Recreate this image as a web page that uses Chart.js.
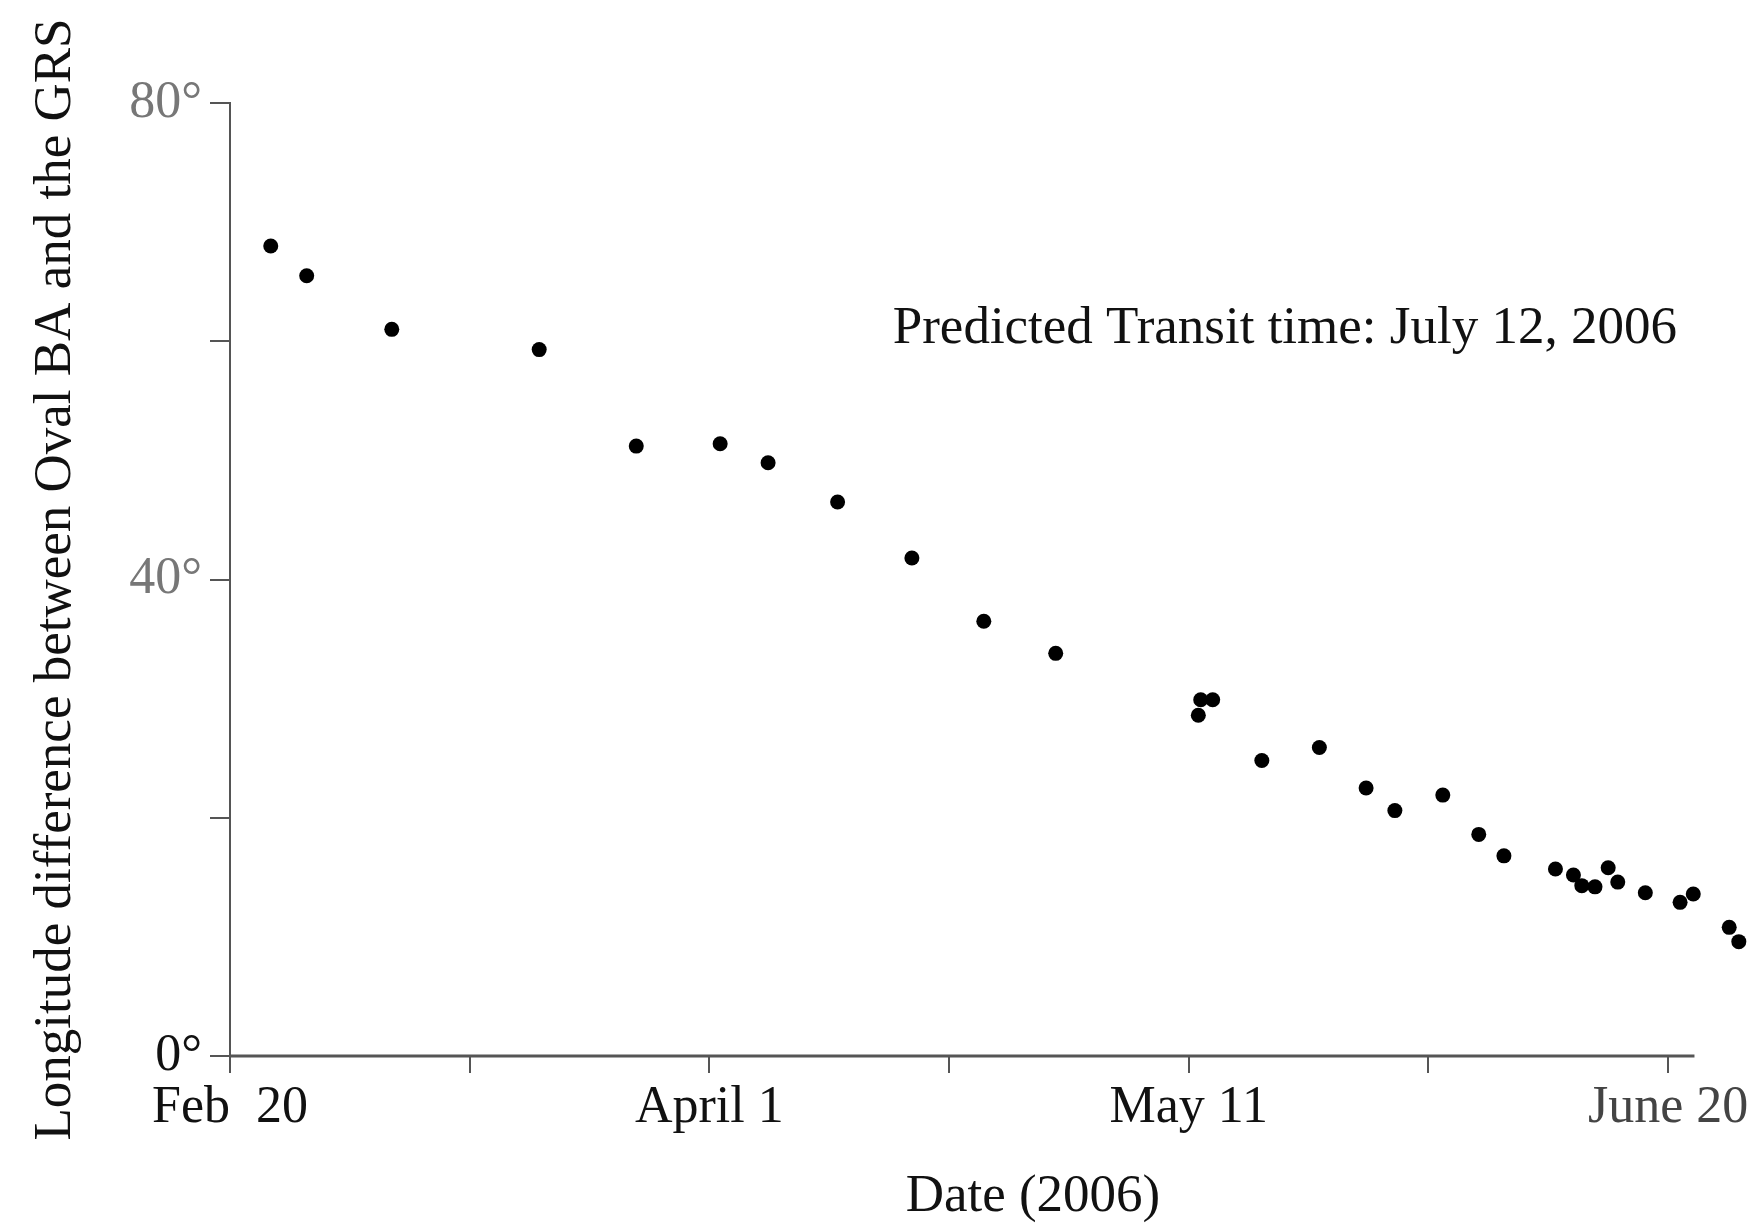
<!DOCTYPE html>
<html>
<head>
<meta charset="utf-8">
<title>Oval BA and GRS longitude difference</title>
<script src="https://cdn.jsdelivr.net/npm/chart.js@4.4.1/dist/chart.umd.min.js"></script>
<style>
  html, body { margin: 0; padding: 0; background: #fff; }
  #wrap { width: 1754px; height: 1227px; }
</style>
</head>
<body>
<div id="wrap"><canvas id="chart"></canvas></div>
<script>
// days counted from Feb 20, 2006
const dayOffsets = [3.4, 6.4, 13.5, 25.8, 33.9, 40.9, 44.9, 50.7, 56.9, 62.9, 68.9,
    80.8, 81.0, 82.0, 86.1, 90.9, 94.8, 97.2, 101.2, 104.2, 106.3, 110.6, 112.1,
    112.8, 113.9, 115.0, 115.8, 118.1, 121.0, 122.1, 125.1, 125.9];
// longitude difference in degrees
const longitudeDiff = [68.0, 65.5, 61.0, 59.3, 51.2, 51.4, 49.8, 46.5, 41.8, 36.5, 33.8,
    28.6, 29.9, 29.9, 24.8, 25.9, 22.5, 20.6, 21.9, 18.6, 16.8, 15.7, 15.2,
    14.3, 14.2, 15.8, 14.6, 13.7, 12.9, 13.6, 10.8, 9.6];

const xTickDays = [0, 20, 40, 60, 80, 100, 120];
const xTickLabels = ['Feb  20', '', 'April 1', '', 'May 11', '', 'June 20'];
const yTickValues = [0, 20, 40, 60, 80];
const yTickLabels = ['0°', '', '40°', '', '80°'];

const xAxisEnd = 122.2;   // the drawn axis line stops here, points go a bit further
const noteText = 'Predicted Transit time: July 12, 2006';
const noteAt = {x: 55.3, y: 61};
const xTitle = 'Date (2006)';
const xTitleDay = 67;
const yTitle = 'Longitude difference between Oval BA and the GRS';

const serif = '"Liberation Serif", "Times New Roman", serif';

// x axis line (shorter than the scale), the note and the x axis title
const extrasPlugin = {
    id: 'extras',
    beforeDatasetsDraw(chart) {
        const {ctx, chartArea, scales: {x}} = chart;
        ctx.save();
        ctx.strokeStyle = '#555';
        ctx.lineWidth = 3;
        ctx.beginPath();
        ctx.moveTo(chartArea.left - 1, chartArea.bottom);
        ctx.lineTo(x.getPixelForValue(xAxisEnd), chartArea.bottom);
        ctx.stroke();
        ctx.restore();
    },
    afterDraw(chart) {
        const {ctx, scales: {x, y}} = chart;
        ctx.save();
        ctx.fillStyle = '#111';
        ctx.font = '53px ' + serif;
        ctx.textBaseline = 'middle';
        ctx.textAlign = 'left';
        ctx.fillText(noteText, x.getPixelForValue(noteAt.x), y.getPixelForValue(noteAt.y));
        ctx.textAlign = 'center';
        ctx.fillText(xTitle, x.getPixelForValue(xTitleDay), chart.height - 30);
        ctx.restore();
    }
};

const points = dayOffsets.map((d, i) => ({x: d, y: longitudeDiff[i]}));

new Chart(document.getElementById('chart').getContext('2d'), {
    type: 'scatter',
    data: {
        datasets: [{
            data: points,
            backgroundColor: '#000',
            borderWidth: 0,
            pointRadius: 7.5,
            clip: false
        }]
    },
    options: {
        responsive: true,
        maintainAspectRatio: false,
        animation: false,
        devicePixelRatio: 1,
        layout: {padding: {top: 103, right: 8, bottom: 0, left: 0}},
        plugins: {legend: {display: false}, tooltip: {enabled: false}},
        scales: {
            x: {
                type: 'linear',
                min: 0,
                max: 126.5,
                afterBuildTicks: s => { s.ticks = xTickDays.map(v => ({value: v})); },
                afterFit: s => { s.height = 171; },
                border: {display: false},
                grid: {drawOnChartArea: false, drawTicks: true, tickLength: 17, tickColor: '#555', lineWidth: 2},
                ticks: {
                    autoSkip: false,
                    maxRotation: 0,
                    padding: 4,
                    font: {family: serif, size: 52},
                    color: c => c.tick && c.tick.value === 120 ? '#444' : '#111',
                    callback: v => xTickLabels[xTickDays.indexOf(v)]
                }
            },
            y: {
                type: 'linear',
                min: 0,
                max: 80,
                afterBuildTicks: s => { s.ticks = yTickValues.map(v => ({value: v})); },
                afterFit: s => { s.width = 230; },
                border: {display: true, color: '#555', width: 2},
                grid: {drawOnChartArea: false, drawTicks: true, tickLength: 20, tickColor: '#555', lineWidth: 2},
                ticks: {
                    padding: 8,
                    font: {family: serif, size: 52},
                    color: c => c.tick && c.tick.value === 0 ? '#111' : '#777',
                    callback: v => yTickLabels[yTickValues.indexOf(v)]
                },
                title: {
                    display: true,
                    text: yTitle,
                    color: '#111',
                    font: {family: serif, size: 53},
                    padding: {top: 24, bottom: 0}
                }
            }
        }
    },
    plugins: [extrasPlugin]
});
</script>
</body>
</html>
